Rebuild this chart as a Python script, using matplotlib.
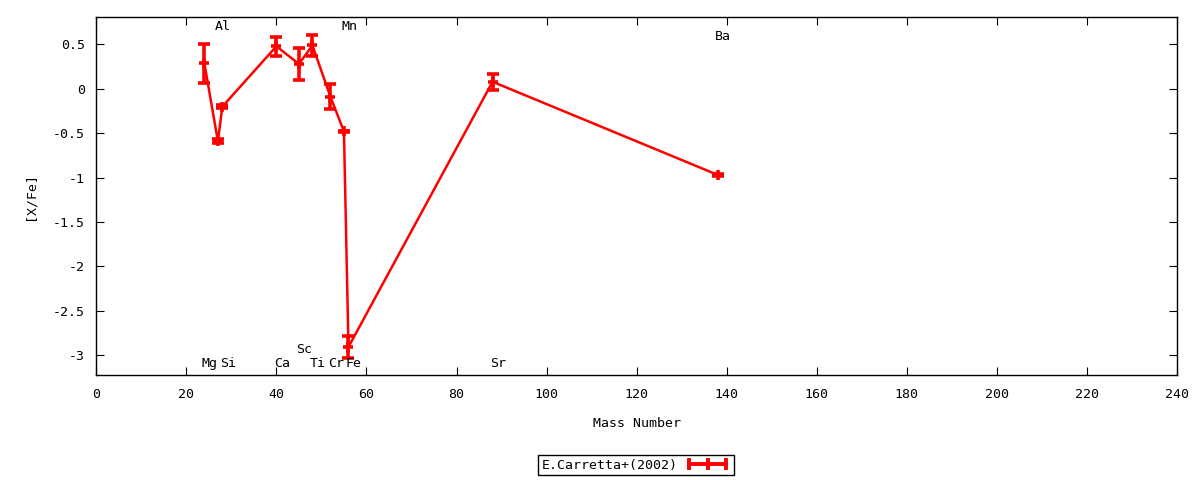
import numpy as np
import matplotlib
matplotlib.use("Agg")
from matplotlib import pyplot as plt
from matplotlib.lines import Line2D

plt.rcParams.update({
    "font.family": ["DejaVu Sans Mono"],
    "font.size": 9.5,
})

# E.Carretta+(2002) abundances
elements = ["Mg", "Al", "Si", "Ca", "Sc", "Ti", "Cr", "Mn", "Fe", "Sr", "Ba"]
mass = [24, 27, 28, 40, 45, 48, 52, 55, 56, 88, 138]
xfe = [0.29, -0.59, -0.20, 0.48, 0.28, 0.49, -0.09, -0.48, -2.91, 0.08, -0.97]
xfe_err = [0.22, 0.02, 0.02, 0.11, 0.18, 0.12, 0.14, 0.01, 0.12, 0.09, 0.01]

# where the element names sit (gnuplot labels)
label_y = [-3.10, 0.70, -3.10, -3.10, -2.94, -3.10, -3.10, 0.70, -3.10, -3.10, 0.586]

fig = plt.figure(figsize=(12, 4.8), dpi=100)
ax = fig.add_axes([96.3/1200, 1 - 375/480, 1080.7/1200, 358/480])

ax.errorbar(mass, xfe, yerr=xfe_err, fmt='-', color='red', linewidth=1.8,
            elinewidth=2.6, capsize=4, capthick=2.8,
            marker='+', markersize=7, markeredgewidth=2.6)

for el, m, ly in zip(elements, mass, label_y):
    ax.text(m - 0.6, ly, el, ha='left', va='center', fontsize=9.5)

ax.set_xlim(0, 240)
ax.set_ylim(-3.226, 0.81)
ax.set_xticks(np.arange(0, 241, 20))
ax.set_yticks([0.5, 0, -0.5, -1, -1.5, -2, -2.5, -3])
ax.set_yticklabels(["0.5", "0", "-0.5", "-1", "-1.5", "-2", "-2.5", "-3"])
ax.tick_params(direction='in', length=6, width=0.8, top=True, right=True)
ax.tick_params(axis='x', pad=9)
ax.tick_params(axis='y', pad=8)
for s in ax.spines.values():
    s.set_linewidth(1.0)

ax.set_xlabel("Mass Number", labelpad=12)
ax.set_ylabel("[X/Fe]", labelpad=12)

# gnuplot-style key sample: horizontal bar with end ticks
key = Line2D([], [], color='red', linewidth=2.8, marker='|', markersize=8,
             markeredgewidth=2.8)
fig.legend([key], ["E.Carretta+(2002)"], loc='center',
           bbox_to_anchor=(636/1200, 1 - 465/480), markerfirst=False,
           numpoints=3, fancybox=False, edgecolor='black', framealpha=1,
           handlelength=3.4, handletextpad=0.6, borderpad=0.25,
           borderaxespad=0, fontsize=9.5)

fig.savefig("out.png")
